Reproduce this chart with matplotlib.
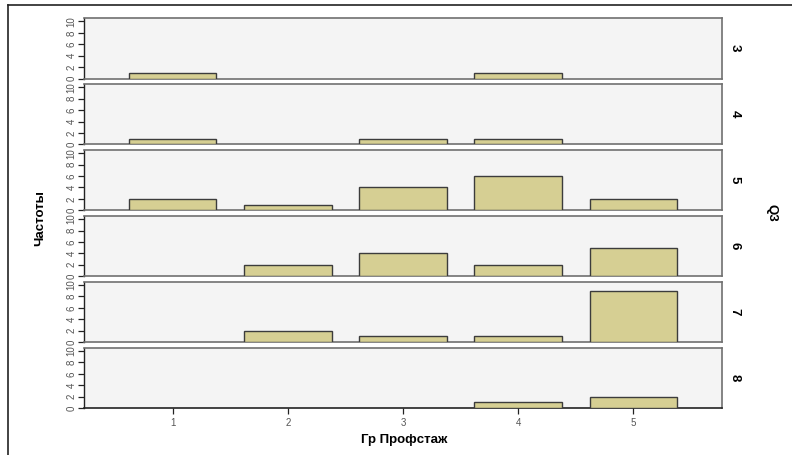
import matplotlib
matplotlib.use("Agg")
import matplotlib.pyplot as plt
from matplotlib.lines import Line2D

plt.rcParams["font.family"] = ["Liberation Sans", "DejaVu Sans"]

categories = [1, 2, 3, 4, 5]
panel_labels = ["3", "4", "5", "6", "7", "8"]
q3_3 = [1, 0, 0, 1, 0]
q3_4 = [1, 0, 1, 1, 0]
q3_5 = [2, 1, 4, 6, 2]
q3_6 = [0, 2, 4, 2, 5]
q3_7 = [0, 2, 1, 1, 9]
q3_8 = [0, 0, 0, 1, 2]
series = [q3_3, q3_4, q3_5, q3_6, q3_7, q3_8]
y_ticks = [0, 2, 4, 6, 8, 10]

W, H = 792, 455
fig = plt.figure(figsize=(W / 100, H / 100), dpi=100)
fig.patch.set_facecolor("white")

left, right = 84, 722
top0, ph, pitch = 18, 60.5, 65.9

bar_color = "#d6cf93"
edge_color = "#3c3c3c"
bg = "#f4f4f4"

for i, (lab, vals) in enumerate(zip(panel_labels, series)):
    top = top0 + i * pitch
    ax = fig.add_axes([left / W, 1 - (top + ph) / H, (right - left) / W, ph / H])
    ax.set_facecolor(bg)
    xs = [c for c, v in zip(categories, vals) if v > 0]
    hs = [v for v in vals if v > 0]
    ax.bar(xs, hs, width=0.76, color=bar_color, edgecolor=edge_color,
           linewidth=1.0, zorder=3)
    ax.set_xlim(0.23, 5.77)
    ax.set_ylim(0, 10.6)
    ax.set_yticks(y_ticks)
    ax.set_yticklabels([str(t) for t in y_ticks], rotation=90, va="center",
                       fontsize=7, color="#555555")
    ax.tick_params(axis="y", length=4, width=0.9, pad=1.5, color="#222222")
    for s in ["top", "right", "bottom"]:
        ax.spines[s].set_color("#707070")
        ax.spines[s].set_linewidth(1.2)
    ax.spines["left"].set_color("#222222")
    ax.spines["left"].set_linewidth(1.0)
    ax.text(1.02, 0.5, lab, transform=ax.transAxes, rotation=-90,
            ha="center", va="center", fontsize=9.5, fontweight="bold")
    if i < 5:
        ax.set_xticks([])
    else:
        ax.set_xticks(categories)
        ax.set_xticklabels([str(c) for c in categories], fontsize=7, color="#555555")
        ax.tick_params(axis="x", length=4, width=0.9, pad=3, color="#222222")
        ax.spines["bottom"].set_color("#222222")

fig.text(404 / W, 1 - 440 / H, "Гр Профстаж", ha="center", va="center",
         fontsize=9.5, fontweight="bold")
fig.text(40 / W, 1 - 218 / H, "Частоты", ha="center", va="center",
         rotation=90, fontsize=9.5, fontweight="bold")
fig.text(771 / W, 1 - 213 / H, "Q3", ha="center", va="center",
         rotation=-90, fontsize=9.5, fontweight="bold")

# image frame (top and left)
fig.add_artist(Line2D([7.5 / W, 1.0], [1 - 4.5 / H, 1 - 4.5 / H],
                      transform=fig.transFigure, color="#222222", linewidth=1.2))
fig.add_artist(Line2D([7.5 / W, 7.5 / W], [0, 1 - 4.5 / H],
                      transform=fig.transFigure, color="#222222", linewidth=1.2))

fig.savefig("out.png", dpi=100)
